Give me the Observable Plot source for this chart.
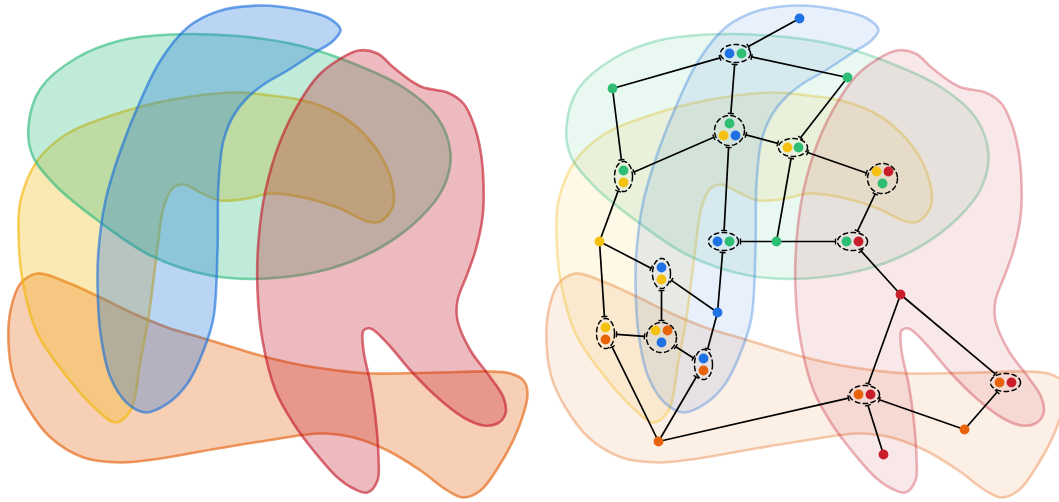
<!DOCTYPE html>
<html>
<head>
<meta charset="utf-8">
<script src="https://cdn.jsdelivr.net/npm/d3@7"></script>
<script src="https://cdn.jsdelivr.net/npm/@observablehq/plot@0.6"></script>
<style>
  html, body { margin: 0; padding: 0; background: #fff; }
  #chart svg { display: block; }
</style>
</head>
<body>
<div id="chart"></div>
<script>
// ---------- blob outlines (left panel coordinates) ----------
const greenBlob = [[28,125],[40,88],[75,58],[120,40],[170,34],[230,35],[290,43],[340,58],[403,87],[437,117],[450,153],[443,187],[420,217],[380,247],[330,268],[267,278],[210,275],[150,255],[100,222],[55,185],[32,155]];
const yellowBlob = [[18,233],[20,200],[37,160],[67,133],[117,113],[167,100],[233,92],[270,95],[303,100],[337,113],[363,133],[383,160],[393,190],[392,207],[380,221],[367,221],[337,207],[303,197],[270,193],[247,198],[220,200],[200,192],[183,184],[172,188],[163,207],[157,247],[148,317],[140,360],[130,410],[115,422],[97,410],[67,377],[37,333],[22,280]];
const blueBlob = [[98,250],[105,200],[120,150],[140,100],[160,60],[187,27],[217,11],[260,5],[303,10],[327,17],[340,29],[333,40],[313,53],[287,70],[266,82],[247,97],[233,115],[223,140],[218,183],[217,250],[213,317],[203,350],[187,383],[167,403],[145,412],[127,403],[110,377],[100,333],[97,283]];
const redBlob = [[337,60],[358,50],[377,53],[393,67],[410,80],[423,87],[447,92],[463,103],[473,123],[480,150],[483,183],[482,217],[475,250],[467,273],[457,300],[457,320],[470,350],[490,377],[503,397],[505,413],[497,423],[483,425],[463,417],[437,397],[410,370],[387,343],[370,328],[363,330],[363,350],[370,383],[375,417],[378,457],[377,480],[367,492],[353,488],[337,477],[313,450],[293,423],[275,390],[262,340],[257,290],[258,240],[265,190],[280,140],[300,100],[318,75]];
const orangeBlob = [[37,273],[20,283],[10,310],[8,343],[13,377],[27,407],[50,437],[83,457],[120,462],[160,458],[217,448],[267,440],[320,433],[353,437],[387,450],[420,470],[447,490],[463,497],[480,490],[500,463],[517,430],[527,393],[523,380],[510,373],[487,371],[437,372],[370,373],[337,370],[303,365],[267,357],[233,347],[200,337],[167,327],[133,313],[100,297],[67,282]];

const setNames = ["orange", "yellow", "green", "blue", "red"];
const setColors = {green: "#2dbc7d", yellow: "#f2b605", blue: "#1a6fdc", red: "#c41a2a", orange: "#e4600a"};
const blobOutlines = {green: greenBlob, yellow: yellowBlob, blue: blueBlob, red: redBlob, orange: orangeBlob};
const dotColors = {green: "#2dbe73", yellow: "#f5c10f", blue: "#1f72e3", red: "#c81e2c", orange: "#e8640a"};

// panels: left (blobs only), right (faded blobs + graph)
const panelNames = ["left", "right"];
const panelOffsets = [0, 538];
const panelFillOpacity = [0.3, 0.1];
const panelStrokeOpacity = [0.62, 0.32];

// ---------- graph (right panel coordinates) ----------
const nodeGroup = ["A","B","B","C","D","E","E","E","F","F","G","G","H","H","H","I","J","J","K","L","L","M","M","N","O","O","P","P","P","Q","Q","R","S","T","T","U","U","V","W"];
const nodeSet   = ["blue","blue","green","green","green","green","yellow","blue","green","yellow","yellow","green","yellow","red","green","yellow","blue","green","green","green","red","blue","yellow","blue","yellow","orange","yellow","orange","blue","blue","orange","orange","red","orange","red","orange","red","orange","red"];
const nodeX     = [799,729,741,612,847,729,723,735,623,623,787,798,876,888,882,599,717,729,776,846,858,661,661,717,605,605,655,667,661,703,703,658,900,858,870,999,1011,964,883];
const nodeY     = [18,53,53,88,77,123,135,135,170,182,147,147,171,171,183,241,241,241,241,241,241,267,279,312,327,339,330,330,342,358,370,441,294,394,394,382,382,429,454];

const edgeFrom = ["A","B","B","B","C","D","E","E","E","G","H","G","J","K","F","I","I","M","M","J","N","P","P","O","Q","R","L","S","S","T","V","T"];
const edgeTo   = ["B","C","D","E","F","G","F","G","J","H","L","K","K","L","I","O","M","P","N","N","Q","O","Q","R","R","T","S","T","U","V","U","W"];

// ---------- build ----------
const W = 1059, H = 502;
const marks = [];

panelNames.forEach((p, i) => {
  setNames.forEach(s => {
    const pts = blobOutlines[s].map(([x, y]) => ({x: x + panelOffsets[i], y}));
    marks.push(Plot.line(pts, {
      x: "x", y: "y", curve: "catmull-rom-closed",
      fill: setColors[s], fillOpacity: panelFillOpacity[i],
      stroke: setColors[s], strokeOpacity: panelStrokeOpacity[i], strokeWidth: 2.6
    }));
  });
});

const nodes = nodeGroup.map((g, i) => ({group: g, set: nodeSet[i], x: nodeX[i], y: nodeY[i]}));
const groups = d3.rollups(nodes, v => {
  const x0 = d3.min(v, d => d.x), x1 = d3.max(v, d => d.x);
  const y0 = d3.min(v, d => d.y), y1 = d3.max(v, d => d.y);
  const multi = v.length > 1;
  return {cx: (x0 + x1) / 2, cy: (y0 + y1) / 2 + (v.length > 2 ? 1 : 0),
          rx: (x1 - x0) / 2 + 9, ry: (y1 - y0) / 2 + 9, multi};
}, d => d.group);
const G = new Map(groups);

function endPoint(a, b) {
  const ga = G.get(a), gb = G.get(b);
  const dx = gb.cx - ga.cx, dy = gb.cy - ga.cy;
  if (!ga.multi) return {x: ga.cx, y: ga.cy, tick: false};
  const t = 1 / Math.sqrt((dx / ga.rx) ** 2 + (dy / ga.ry) ** 2);
  const len = Math.hypot(dx, dy);
  const extra = 2 / len;
  return {x: ga.cx + dx * (t + extra), y: ga.cy + dy * (t + extra), tick: true, ux: dx / len, uy: dy / len};
}

const links = [], ticks = [];
edgeFrom.forEach((a, i) => {
  const b = edgeTo[i];
  const p = endPoint(a, b), q = endPoint(b, a);
  links.push({x1: p.x, y1: p.y, x2: q.x, y2: q.y});
  [p, q].forEach(e => {
    if (e.tick) ticks.push({x1: e.x - e.uy * 3, y1: e.y + e.ux * 3, x2: e.x + e.uy * 3, y2: e.y - e.ux * 3});
  });
});

const ellipsePts = [];
groups.forEach(([id, g]) => {
  if (!g.multi) return;
  for (let k = 0; k < 64; k++) {
    const a = (k / 64) * 2 * Math.PI;
    ellipsePts.push({id, x: g.cx + g.rx * Math.cos(a), y: g.cy + g.ry * Math.sin(a)});
  }
});

marks.push(Plot.link(links, {x1: "x1", y1: "y1", x2: "x2", y2: "y2", stroke: "#000", strokeWidth: 1.7}));
marks.push(Plot.link(ticks, {x1: "x1", y1: "y1", x2: "x2", y2: "y2", stroke: "#000", strokeWidth: 1.4}));
marks.push(Plot.line(ellipsePts, {x: "x", y: "y", z: "id", curve: "linear-closed", stroke: "#000", strokeWidth: 1.5, strokeDasharray: "4.5,3.5", fill: "none"}));
marks.push(Plot.dot(nodes, {x: "x", y: "y", r: 4.9, fill: d => dotColors[d.set], stroke: "none"}));

const chart = Plot.plot({
  width: W, height: H,
  margin: 0,
  x: {domain: [0, W], range: [0, W], axis: null},
  y: {domain: [0, H], range: [0, H], axis: null},
  color: {type: "identity"},
  style: {background: "#fff"},
  marks
});
document.getElementById("chart").appendChild(chart);
</script>
</body>
</html>
